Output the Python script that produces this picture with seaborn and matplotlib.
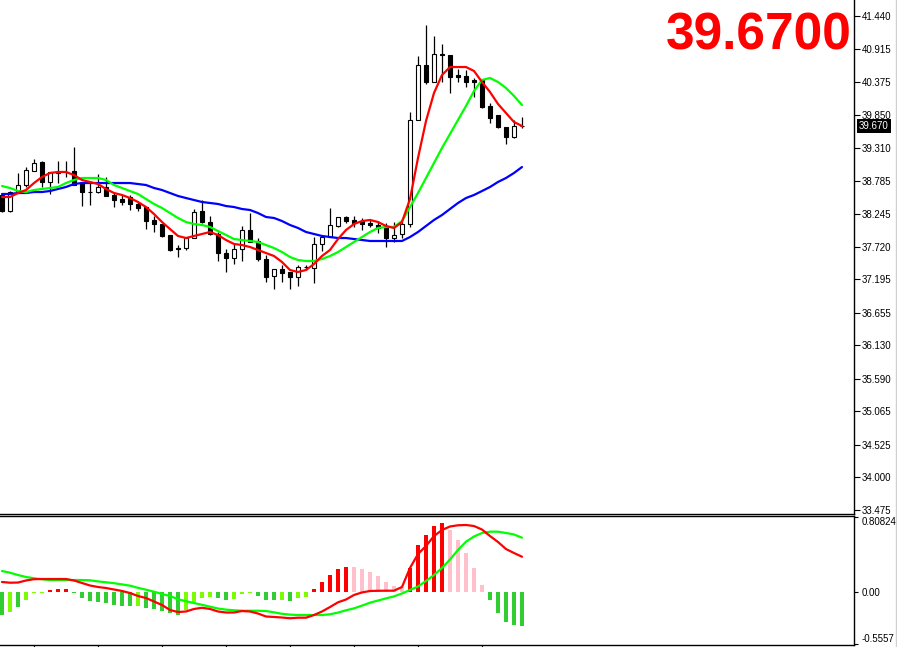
import matplotlib
matplotlib.use("Agg")
import matplotlib.pyplot as plt
import matplotlib.transforms as mtransforms
from matplotlib.lines import Line2D
import numpy as np
import pandas as pd
import seaborn as sns

# ---------------- data ----------------
opens = [38.553, 38.295, 38.585, 38.714, 38.940, 39.085, 38.763, 38.924, 38.924, 38.940,
         38.746, 38.601, 38.601, 38.682, 38.553, 38.488, 38.521, 38.408, 38.359, 38.150,
         38.085, 37.908, 37.698, 37.698, 37.859, 38.295, 38.117, 37.924, 37.617, 37.537,
         37.682, 37.988, 37.811, 37.521, 37.246, 37.359, 37.311, 37.230, 37.392, 37.375,
         37.763, 37.875, 38.053, 38.198, 38.150, 38.133, 38.101, 38.069, 38.037, 37.859,
         37.924, 38.085, 39.763, 40.650, 40.375, 40.827, 40.811, 40.488, 40.472, 40.408,
         40.408, 39.988, 39.843, 39.650, 39.488, 39.666]
highs = [38.585, 38.617, 38.908, 39.004, 39.133, 39.101, 38.924, 39.101, 39.101, 39.327,
         38.746, 38.746, 38.892, 38.843, 38.601, 38.553, 38.553, 38.440, 38.359, 38.214,
         38.085, 37.908, 37.746, 37.875, 38.327, 38.472, 38.214, 37.956, 37.682, 37.763,
         38.053, 38.262, 37.859, 37.585, 37.359, 37.424, 37.311, 37.424, 37.424, 37.875,
         37.908, 38.343, 38.198, 38.214, 38.214, 38.182, 38.166, 38.133, 38.101, 38.117,
         38.117, 39.892, 40.795, 41.295, 41.117, 40.988, 40.811, 40.585, 40.569, 40.440,
         40.408, 40.037, 39.843, 39.650, 39.763, 39.811]
lows = [38.279, 38.279, 38.585, 38.682, 38.940, 38.682, 38.569, 38.746, 38.843, 38.714,
        38.375, 38.392, 38.585, 38.537, 38.359, 38.392, 38.311, 38.295, 38.004, 37.956,
        37.875, 37.650, 37.553, 37.666, 37.859, 38.101, 37.908, 37.488, 37.311, 37.440,
        37.488, 37.795, 37.488, 37.150, 37.037, 37.150, 37.037, 37.085, 37.343, 37.133,
        37.650, 37.875, 38.037, 38.101, 38.037, 37.988, 38.037, 37.940, 37.714, 37.795,
        37.859, 38.037, 39.763, 40.343, 40.375, 40.375, 40.198, 40.375, 40.295, 40.133,
        39.956, 39.714, 39.633, 39.375, 39.472, 39.633]
closes = [38.295, 38.601, 38.714, 38.956, 39.069, 38.763, 38.924, 38.908, 38.924, 38.714,
          38.601, 38.601, 38.682, 38.537, 38.472, 38.440, 38.408, 38.343, 38.133, 38.085,
          37.892, 37.666, 37.682, 37.859, 38.279, 38.117, 37.924, 37.617, 37.537, 37.682,
          37.988, 37.795, 37.521, 37.230, 37.359, 37.295, 37.230, 37.392, 37.392, 37.763,
          37.875, 38.069, 38.198, 38.133, 38.101, 38.085, 38.069, 38.021, 37.859, 37.908,
          38.085, 39.763, 40.650, 40.375, 40.827, 40.811, 40.456, 40.456, 40.375, 40.375,
          39.972, 39.795, 39.650, 39.488, 39.666, 39.670]

ma_fast = [38.521, 38.521, 38.585, 38.633, 38.746, 38.843, 38.908, 38.924, 38.924, 38.875,
           38.795, 38.763, 38.730, 38.650, 38.585, 38.553, 38.504, 38.440, 38.359, 38.246,
           38.117, 38.004, 37.892, 37.859, 37.892, 37.924, 37.956, 37.908, 37.827, 37.763,
           37.746, 37.714, 37.666, 37.617, 37.569, 37.472, 37.343, 37.311, 37.343, 37.440,
           37.569, 37.666, 37.843, 37.988, 38.085, 38.133, 38.150, 38.117, 38.053, 38.021,
           38.117, 38.488, 39.150, 39.746, 40.198, 40.488, 40.617, 40.617, 40.617, 40.553,
           40.375, 40.214, 40.021, 39.875, 39.730, 39.666]
ma_mid = [38.698, 38.666, 38.617, 38.601, 38.633, 38.650, 38.666, 38.682, 38.746, 38.795,
          38.827, 38.827, 38.827, 38.795, 38.714, 38.666, 38.617, 38.569, 38.488, 38.408,
          38.343, 38.262, 38.182, 38.117, 38.085, 38.069, 38.037, 37.972, 37.908, 37.843,
          37.827, 37.811, 37.795, 37.746, 37.698, 37.633, 37.553, 37.504, 37.488, 37.488,
          37.521, 37.569, 37.633, 37.714, 37.795, 37.875, 37.956, 38.021, 38.037, 38.037,
          38.133, 38.359, 38.585, 38.827, 39.069, 39.311, 39.537, 39.763, 39.988, 40.230,
          40.408, 40.440, 40.375, 40.279, 40.150, 40.004]
ma_slow = [38.569, 38.569, 38.585, 38.585, 38.601, 38.601, 38.617, 38.650, 38.682, 38.730,
           38.746, 38.746, 38.746, 38.746, 38.746, 38.746, 38.746, 38.730, 38.714, 38.666,
           38.633, 38.585, 38.537, 38.504, 38.472, 38.440, 38.424, 38.408, 38.375, 38.359,
           38.327, 38.311, 38.262, 38.198, 38.182, 38.133, 38.069, 38.021, 37.956, 37.924,
           37.892, 37.875, 37.859, 37.859, 37.843, 37.827, 37.811, 37.811, 37.811, 37.811,
           37.811, 37.875, 37.956, 38.053, 38.150, 38.230, 38.327, 38.424, 38.504, 38.553,
           38.617, 38.682, 38.763, 38.827, 38.908, 39.004]

osc_hist = [-0.248, -0.212, -0.158, -0.086, -0.014, -0.008, 0.018, 0.032, 0.032, -0.008,
            -0.065, -0.097, -0.108, -0.118, -0.140, -0.151, -0.151, -0.151, -0.169, -0.183,
            -0.205, -0.230, -0.248, -0.194, -0.122, -0.065, -0.051, -0.065, -0.086, -0.075,
            -0.022, -0.008, -0.043, -0.086, -0.086, -0.086, -0.097, -0.068, -0.051, 0.029,
            0.111, 0.183, 0.245, 0.266, 0.266, 0.248, 0.219, 0.176, 0.111, 0.065,
            0.051, 0.262, 0.506, 0.614, 0.711, 0.740, 0.668, 0.560, 0.423, 0.255,
            0.075, -0.086, -0.230, -0.320, -0.356, -0.366]
# D = falling below zero, L = rising below zero, R = rising above zero, P = falling above zero
osc_state = list("DLDLLLRRRDDDDDDDDLDDDDDLLLLDDLLLDDDLDLLRRRRRPPPPPPPRRRRRPPPPPDDDDD")
osc_main = [0.108, 0.100, 0.102, 0.124, 0.138, 0.140, 0.140, 0.140, 0.140, 0.124,
            0.097, 0.070, 0.054, 0.043, 0.027, 0.011, -0.011, -0.043, -0.065, -0.102,
            -0.140, -0.194, -0.216, -0.210, -0.183, -0.170, -0.183, -0.210, -0.221, -0.221,
            -0.205, -0.210, -0.232, -0.264, -0.269, -0.275, -0.283, -0.277, -0.277, -0.248,
            -0.210, -0.162, -0.111, -0.081, -0.032, -0.005, 0.011, 0.013, 0.014, 0.014,
            0.054, 0.259, 0.409, 0.496, 0.603, 0.668, 0.706, 0.719, 0.722, 0.711,
            0.673, 0.603, 0.539, 0.463, 0.420, 0.380]
osc_signal = [0.226, 0.208, 0.183, 0.162, 0.148, 0.137, 0.129, 0.129, 0.129, 0.129,
              0.129, 0.126, 0.114, 0.105, 0.095, 0.082, 0.068, 0.045, 0.025, 0.003,
              -0.022, -0.043, -0.078, -0.099, -0.119, -0.138, -0.158, -0.178, -0.190, -0.197,
              -0.202, -0.202, -0.202, -0.205, -0.219, -0.235, -0.244, -0.248, -0.248, -0.248,
              -0.248, -0.240, -0.222, -0.197, -0.176, -0.147, -0.115, -0.092, -0.069, -0.047,
              -0.016, 0.022, 0.059, 0.119, 0.183, 0.259, 0.350, 0.453, 0.542, 0.598,
              0.636, 0.650, 0.650, 0.636, 0.620, 0.585]

price_ticks = [41.440, 40.915, 40.375, 39.850, 39.310, 38.785, 38.245, 37.720, 37.195,
               36.655, 36.130, 35.590, 35.065, 34.525, 34.000, 33.475]
osc_ticks = [0.80824, 0.00, -0.5557]
osc_tick_labels = ["0.80824", "0.00", "-0.5557"]
time_ticks = [4, 12, 20, 28, 36, 44, 52, 60]
last_price = 39.670
big_label = "39.6700"

# ---------------- styling ----------------
sns.set_style("white")
plt.rcParams['font.family'] = ['Liberation Sans', 'DejaVu Sans']

W, H = 897, 647
fig = plt.figure(figsize=(W / 100, H / 100), dpi=100)
fig.patch.set_facecolor("white")

ax = fig.add_axes([0, 133 / H, 854 / W, 514 / H])
ax2 = fig.add_axes([0, 2 / H, 854 / W, 129 / H], sharex=ax)

df = pd.DataFrame({"i": np.arange(len(closes)), "o": opens, "h": highs,
                   "l": lows, "c": closes, "fast": ma_fast, "mid": ma_mid,
                   "slow": ma_slow, "hist": osc_hist, "state": osc_state,
                   "main": osc_main, "sig": osc_signal})

# candles
ax.vlines(df["i"], df["l"], df["h"], color="black", linewidth=0.9, zorder=2)
up = df["c"] >= df["o"]
body_bottom = np.minimum(df["o"], df["c"])
body_h = np.abs(df["c"] - df["o"])
ax.bar(df["i"][up], body_h[up], bottom=body_bottom[up], width=0.62,
       color="white", edgecolor="black", linewidth=0.8, zorder=3)
ax.bar(df["i"][~up], body_h[~up], bottom=body_bottom[~up], width=0.62,
       color="black", edgecolor="black", linewidth=0.8, zorder=3)

# moving averages
sns.lineplot(data=df, x="i", y="slow", ax=ax, color="#0000FF", linewidth=1.6, zorder=4)
sns.lineplot(data=df, x="i", y="mid", ax=ax, color="#00FF00", linewidth=1.6, zorder=4)
sns.lineplot(data=df, x="i", y="fast", ax=ax, color="#FF0000", linewidth=1.6, zorder=5)

ax.set_xlim(-0.25, -0.25 + 854 / 8)
ax.set_ylim(41.698 - 514 / 62, 41.698)
ax.set_xlabel("")
ax.set_ylabel("")
ax.yaxis.tick_right()
ax.set_yticks(price_ticks)
ax.set_yticklabels([f"{v:.3f}" for v in price_ticks])
ax.tick_params(axis="y", direction="out", length=4, width=0.8, pad=1.5,
               labelsize=7, colors="black", right=True, left=False)
ax.tick_params(axis="x", bottom=False, labelbottom=False)
for s in ["left", "top"]:
    ax.spines[s].set_visible(False)
for s in ["right", "bottom"]:
    ax.spines[s].set_color("black")
    ax.spines[s].set_linewidth(1.0)

# current price box
trans = mtransforms.blended_transform_factory(ax.transAxes, ax.transData)
ax.text(859 / 854, last_price, f"{last_price:.3f}", transform=trans, ha="left",
        va="center", fontsize=7, color="white", zorder=10, clip_on=False,
        bbox=dict(boxstyle="square,pad=0.2", fc="black", ec="none"))

# big red price label
fig.text(852 / W, 1 - 50 / H, big_label, ha="right", va="baseline",
         fontsize=37, fontweight="bold", color="#FF0000")

# ---------------- oscillator panel ----------------
state_colors = {"D": "#32CD32", "L": "#7CFC00", "R": "#FF0000", "P": "#FFC0CB"}
ax2.bar(df["i"], df["hist"], width=0.38,
        color=[state_colors[s] for s in df["state"]], linewidth=0, zorder=2)
sns.lineplot(data=df, x="i", y="sig", ax=ax2, color="#00FF00", linewidth=1.6, zorder=3)
sns.lineplot(data=df, x="i", y="main", ax=ax2, color="#FF0000", linewidth=1.6, zorder=4)

ax2.set_ylim((592 - 645) / 92.8, (592 - 516) / 92.8)
ax2.set_xlabel("")
ax2.set_ylabel("")
ax2.yaxis.tick_right()
ax2.set_yticks(osc_ticks)
ax2.set_yticklabels(osc_tick_labels)
ax2.tick_params(axis="y", direction="out", length=3, width=0.8, pad=2.5,
                labelsize=7, colors="black", right=True, left=False)
labs = ax2.get_yticklabels()
labs[0].set_va("top")
labs[-1].set_va("bottom")
ax2.set_xticks(time_ticks)
ax2.tick_params(axis="x", direction="out", length=3, width=0.8, labelbottom=False,
                bottom=True, colors="black")
ax2.spines["left"].set_visible(False)
for s in ["right", "bottom", "top"]:
    ax2.spines[s].set_color("black")
    ax2.spines[s].set_linewidth(1.0)

# light window border at the right
fig.add_artist(Line2D([895.5 / W, 895.5 / W], [0, 1], color="#d0d0d0", linewidth=1.0))

fig.savefig("out.png", dpi=100, facecolor="white")
